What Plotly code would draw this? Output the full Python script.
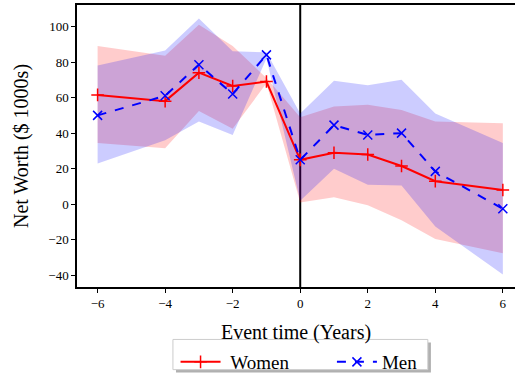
import plotly.graph_objects as go

years = [-6, -4, -3, -2, -1, 0, 1, 2, 3, 4, 6]

women_mean = [61.5, 58, 74, 66.5, 69, 25, 29, 28, 21.5, 13, 8]
women_upper = [89, 83.5, 101, 89, 71, 49, 55, 56, 53, 46.5, 45.5]
women_lower = [34.5, 31.5, 52.5, 42.5, 68, 1, 4, -0.5, -9, -19.5, -27.5]

men_mean = [50, 61, 78.5, 62, 84, 25, 44.5, 39, 40, 18.5, -2.5]
men_upper = [78, 86.5, 104.5, 86, 85.5, 51, 69.5, 67, 70, 51, 34.5]
men_lower = [23, 36, 46.5, 39, 82, 2, 20, 11, 10.5, -12.5, -39.5]

x_ticks = [-6, -4, -2, 0, 2, 4, 6]
y_ticks = [-40, -20, 0, 20, 40, 60, 80, 100]

FONT = "Liberation Serif, serif"

fig = go.Figure()

fig.add_trace(go.Scatter(
    x=years + years[::-1], y=women_upper + women_lower[::-1],
    fill="toself", fillcolor="rgba(255,0,0,0.2)", line=dict(width=0),
    mode="lines", showlegend=False, hoverinfo="skip"))
fig.add_trace(go.Scatter(
    x=years + years[::-1], y=men_upper + men_lower[::-1],
    fill="toself", fillcolor="rgba(0,0,255,0.2)", line=dict(width=0),
    mode="lines", showlegend=False, hoverinfo="skip"))

fig.add_trace(go.Scatter(
    x=years, y=women_mean, name="\u00a0Women" + "\u00a0" * 8, mode="lines+markers",
    line=dict(color="red", width=2),
    marker=dict(symbol="cross-thin", size=9, color="red",
                line=dict(color="red", width=1.5))))
fig.add_trace(go.Scatter(
    x=years, y=men_mean, name="Men", mode="lines+markers",
    line=dict(color="blue", width=2, dash="dash"),
    marker=dict(symbol="x-thin", size=9, color="blue",
                line=dict(color="blue", width=1.5))))

fig.add_vline(x=0, line=dict(color="black", width=2), layer="below")

# legend frame with shadow (paper coordinates)
fig.add_shape(type="rect", xref="paper", yref="paper", x0=0.226, x1=0.808, y0=-0.303, y1=-0.197,
              fillcolor="#b0b0b0", line=dict(width=0), layer="above")
fig.add_shape(type="rect", xref="paper", yref="paper", x0=0.219, x1=0.801, y0=-0.293, y1=-0.186,
              fillcolor="white", line=dict(color="#cccccc", width=1), layer="above")

fig.update_layout(
    width=515, height=381,
    margin=dict(l=77, r=0, t=5, b=86),
    plot_bgcolor="white", paper_bgcolor="white",
    font=dict(family=FONT, color="black"),
    showlegend=True,
    legend=dict(orientation="h", x=0.225, xanchor="left", y=-0.2, yanchor="top",
                borderwidth=0, bgcolor="rgba(0,0,0,0)",
                font=dict(family=FONT, size=19), itemwidth=40),
)

fig.update_xaxes(
    range=[-6.61, 6.36], tickvals=x_ticks,
    ticktext=[("\u2212" + str(-v)) if v < 0 else str(v) for v in x_ticks],
    showgrid=False, zeroline=False, showline=True, linecolor="black", linewidth=1.5,
    mirror=True, ticks="outside", ticklen=4, tickcolor="black",
    tickfont=dict(family=FONT, size=13),
    title=dict(text="Event time (Years)", font=dict(family=FONT, size=20), standoff=15))
fig.update_yaxes(
    range=[-46.5, 112.05], tickvals=y_ticks,
    ticktext=[("\u2212" + str(-v)) if v < 0 else str(v) for v in y_ticks],
    showgrid=False, zeroline=False, showline=True, linecolor="black", linewidth=1.5,
    ticks="outside", ticklen=4, tickcolor="black",
    tickfont=dict(family=FONT, size=13),
    title=dict(text="Net Worth ($ 1000s)", font=dict(family=FONT, size=20), standoff=14))

fig.write_html("out.html")
